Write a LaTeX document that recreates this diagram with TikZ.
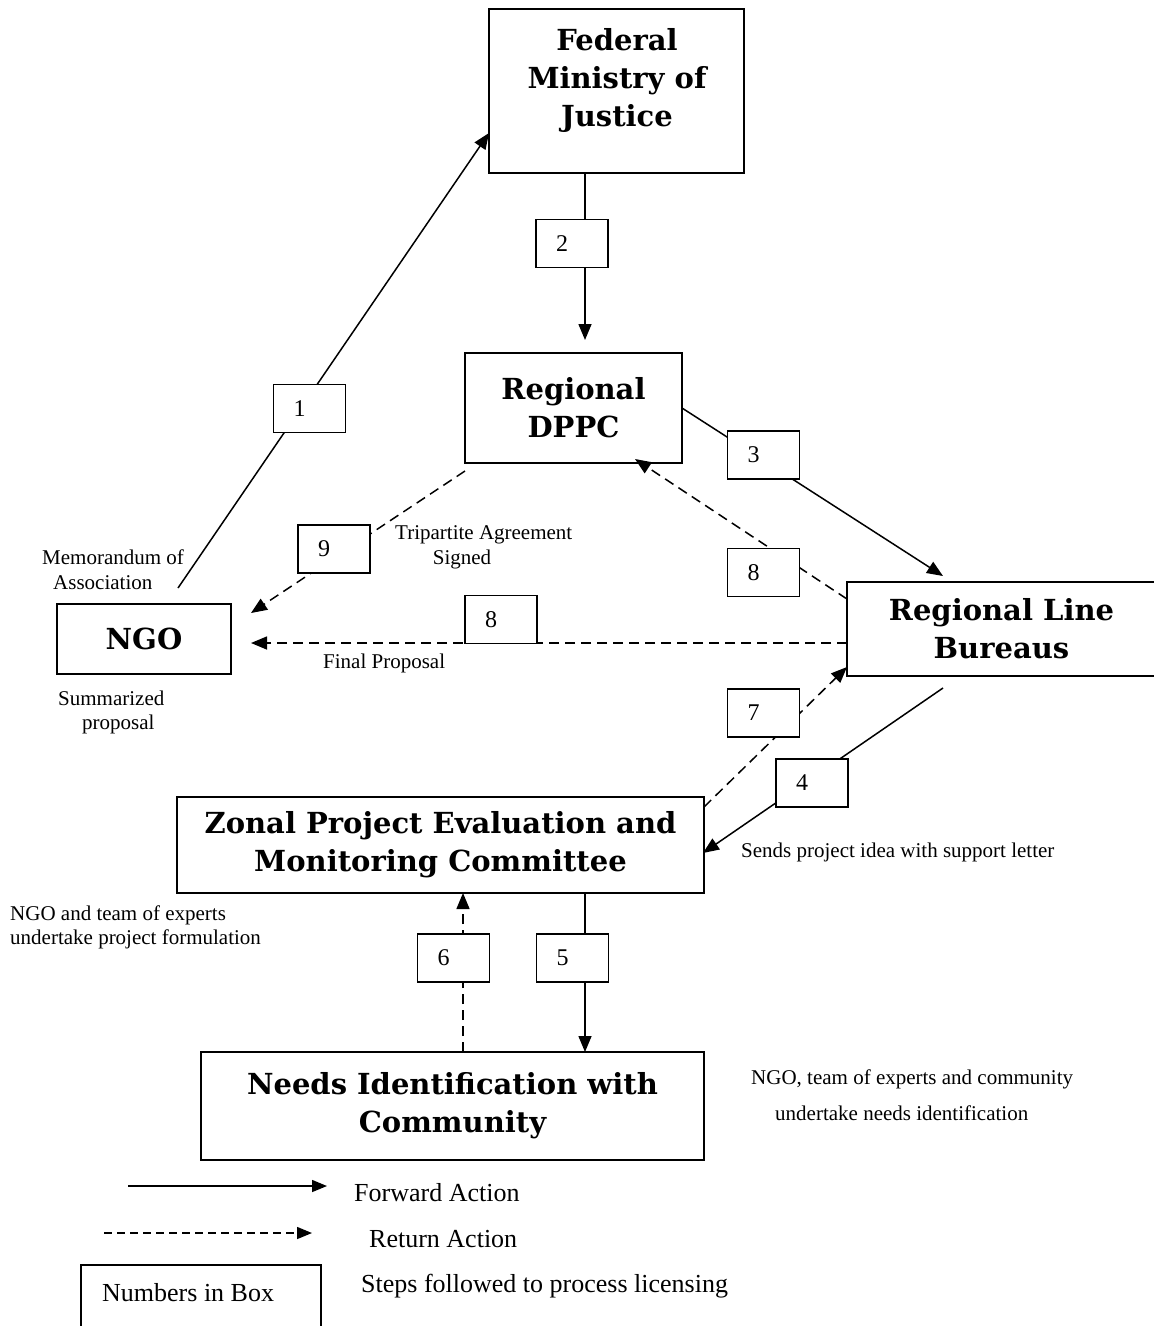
\documentclass[tikz,border=0pt]{standalone}
\usepackage{fontspec}
\setmainfont{Liberation Serif}
\newfontfamily\bkfont{DejaVu Serif}
\usetikzlibrary{arrows.meta,calc}
\begin{document}
\begin{tikzpicture}[x=1pt,y=-1pt,
  bigbox/.style={draw,line width=1.8pt,inner sep=0pt,outer sep=0pt,align=center,
    font=\bkfont\bfseries\fontsize{29}{38}\selectfont},
  headtxt/.style={inner sep=0pt,align=center,font=\bkfont\bfseries\fontsize{29}{38}\selectfont},
  numbox/.style={draw,fill=white,line width=1.5pt,inner sep=0pt,outer sep=0pt,
    minimum width=72pt,minimum height=48pt,font=\fontsize{24}{28}\selectfont},
  lbl/.style={inner sep=0pt,anchor=base west,font=\fontsize{21}{24}\selectfont},
  leg/.style={inner sep=0pt,anchor=base west,font=\fontsize{26}{30}\selectfont},
  fwd/.style={line width=1.5pt,-{Triangle[length=16pt,width=13pt]}},
  ret/.style={fwd,dash pattern=on 10pt off 6pt}]
\useasboundingbox (0,0) rectangle (1154,1326);

% main boxes
\node[bigbox,minimum width=255pt,minimum height=164pt] (fed) at (616.5,91) {};
\node[headtxt] (fedt) at (617,80) {Federal\\Ministry of\\Justice};
\node[bigbox,minimum width=217pt,minimum height=110pt] (dppc) at (573.5,408) {Regional\\DPPC};
\node[bigbox,minimum width=309pt,minimum height=94pt] (rlb) at (1001.5,629) {Regional Line\\Bureaus};
\node[bigbox,minimum width=174pt,minimum height=70pt] (ngo) at (144,639) {NGO};
\node[bigbox,minimum width=527pt,minimum height=96pt] (zonal) at (440.5,845) {Zonal Project Evaluation and\\Monitoring Committee};
\node[bigbox,minimum width=503pt,minimum height=108pt] (needs) at (452.5,1106) {Needs Identification with\\Community};

% connectors
\coordinate (c2) at (585,0);
\coordinate (c6) at (463,0);
\coordinate (c1s) at (178,588);
\draw[fwd] (c1s) -- ($(fed.south west)+(0,-40)$);
\draw[fwd,shorten >=13pt] (fed.south -| c2) -- (dppc.north -| c2);
\draw[fwd] (dppc.east) -- ($(rlb.north west)+(96,-6)$);
\draw[fwd] ($(rlb.south west)+(96,12)$) -- ($(zonal.east)+(-1,8)$);
\draw[fwd] (zonal.south -| c2) -- (needs.north -| c2);
\draw[ret] (needs.north -| c6) -- (zonal.south -| c6);
\draw[ret] ($(zonal.north east)+(0,10)$) -- ($(rlb.south west)+(0,-9)$);
\draw[ret] ($(rlb.north west)+(0,17)$) -- ($(dppc.south west)+(170,-4)$);
\draw[ret,shorten >=20pt] ($(rlb.south west)+(0,-33)$) -- ($(ngo.south east)+(0,-31)$);
\draw[ret] ($(dppc.south west)+(0,8)$) -- ($(ngo.north east)+(20,9)$);

% step boxes
\node[numbox] (n1) at (309.5,408.5) {1\kern20pt};
\node[numbox] (n2) at (572,243.5) {2\kern20pt};
\node[numbox] (n3) at (763.5,455) {3\kern20pt};
\node[numbox] (n4) at (812,783) {4\kern20pt};
\node[numbox] (n5) at (572.5,958) {5\kern20pt};
\node[numbox] (n6) at (453.5,958) {6\kern20pt};
\node[numbox] (n7) at (763.5,713) {7\kern20pt};
\node[numbox] (n8a) at (763.5,572.5) {8\kern20pt};
\node[numbox] (n8b) at (501,619.5) {8\kern20pt};
\node[numbox] (n9) at (334,549) {9\kern20pt};

% labels
\node[lbl] (t1) at (42,564) {Memorandum of};
\node[lbl] (t2) at (53,589) {Association};
\node[lbl] (t3) at (395,539) {Tripartite Agreement};
\node[lbl,anchor=base] (t4) at (462,564) {Signed};
\node[lbl] (t5) at (323,668) {Final Proposal};
\node[lbl] (t6) at (58,705) {Summarized};
\node[lbl] (t7) at (82,729) {proposal};
\node[lbl] (t8) at (741,857) {Sends project idea with support letter};
\node[lbl] (t9) at (10,920) {NGO and team of experts};
\node[lbl] (t10) at (10,944) {undertake project formulation};
\node[lbl] (t11) at (751,1084) {NGO, team of experts and community};
\node[lbl] (t12) at (775,1120) {undertake needs identification};

% legend
\coordinate (lfa) at (128,1186);
\coordinate (lfb) at (327,1186);
\coordinate (lra) at (104,1233);
\coordinate (lrb) at (312,1233);
\draw[line width=1.5pt,-{Triangle[length=15pt,width=12pt]}] (lfa) -- (lfb);
\draw[line width=1.5pt,dash pattern=on 8pt off 5pt,-{Triangle[length=15pt,width=12pt]}] (lra) -- (lrb);
\node[leg] (l1) at (354,1201) {Forward Action};
\node[leg] (l2) at (369,1247) {Return Action};
\node[draw,line width=1.5pt,inner sep=0pt,minimum width=240pt,minimum height=66pt,anchor=north west] (lbox) at (80,1264) {};
\node[leg] (l3) at (102,1301) {Numbers in Box};
\node[leg] (l4) at (361,1292) {Steps followed to process licensing};
\end{tikzpicture}
\end{document}
